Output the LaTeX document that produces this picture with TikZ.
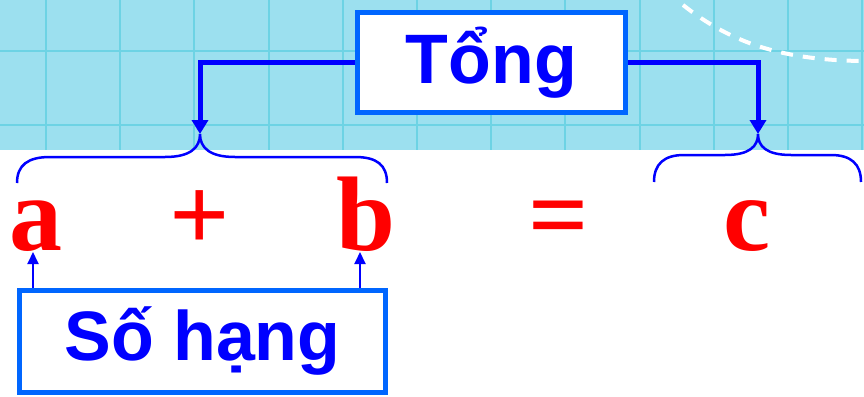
\documentclass[tikz,border=0pt]{standalone}
\usepackage{fontspec}
\setmainfont{Liberation Serif}
\newfontfamily\boxfont{Liberation Sans}
\usetikzlibrary{arrows.meta}
\definecolor{skyfill}{HTML}{9CE0EF}
\definecolor{gridline}{HTML}{6DD3E4}
\definecolor{boxedge}{HTML}{0066FF}
\definecolor{pureblue}{HTML}{0000FF}
\definecolor{purered}{HTML}{FF0000}
\tikzset{
  wordbox/.style={draw=boxedge, line width=5pt, fill=white, inner sep=0pt,
    font=\boxfont\bfseries\fontsize{70}{70}\selectfont, text=pureblue},
  letter/.style={anchor=base, inner sep=0pt, text=purered,
    font=\bfseries\fontsize{106}{106}\selectfont},
  bigarrow/.style={draw=pureblue, line width=5pt, -{Triangle[width=16pt,length=14pt]}},
  smallarrow/.style={draw=pureblue, line width=2pt, -{Triangle[width=11pt,length=12pt]}},
  bracepath/.style={draw=pureblue, line width=2.5pt},
  gridstroke/.style={draw=gridline, line width=2pt},
}
\begin{document}
\begin{tikzpicture}[x=1pt,y=-1pt]
\useasboundingbox (0,0) rectangle (864,396);
% sky band with grid
\fill[skyfill] (0,0) rectangle (864,150);
\foreach \gx in {0,...,11} {
  \draw[gridstroke] ({46+74.2*\gx},0) -- ({46+74.2*\gx},150);
}
\draw[gridstroke] (0,51) -- (864,51);
\draw[gridstroke] (0,125) -- (864,125);
% dashed white arc
\draw[white, line width=4pt, dash pattern=on 12pt off 10pt]
  (683,5) .. controls (730,42) and (780,60) .. (862,61);
% boxes
\node[wordbox, minimum width=268pt, minimum height=100pt] (tong) at (491.5,62.5) {Tổng};
\node[wordbox, minimum width=366pt, minimum height=102pt] (sohang) at (202.5,341.5) {Số hạng};
% letters
\node[letter] (a) at (36,250) {a};
\node[letter] (plus) at (200,250) {+};
\node[letter] (b) at (366,250) {b};
\node[letter] (eq) at (559,250) {=};
\node[letter] (c) at (747,250) {c};
% braces
\coordinate (ltip) at (200,134);
\coordinate (rtip) at (758,134);
\draw[bracepath] (17,183) .. controls (17,165) and (28,157) .. (50,157)
  -- (165,157) .. controls (190,157) and (200,148) .. (ltip)
  .. controls (200,148) and (210,157) .. (235,157)
  -- (355,157) .. controls (377,157) and (387,165) .. (387,183);
\draw[bracepath] (654,182) .. controls (654,164) and (664,155) .. (684,155)
  -- (725,155) .. controls (750,155) and (758,146) .. (rtip)
  .. controls (758,146) and (766,155) .. (791,155)
  -- (831,155) .. controls (851,155) and (861,164) .. (861,182);
% connectors from Tong
\draw[bigarrow] (tong.west) -| (ltip);
\draw[bigarrow] (tong.east) -| (rtip);
% connectors from So hang
\coordinate (atip) at (33,252);
\coordinate (btip) at (360,252);
\draw[smallarrow] (sohang.north -| atip) -- (atip);
\draw[smallarrow] (sohang.north -| btip) -- (btip);
\end{tikzpicture}
\end{document}
